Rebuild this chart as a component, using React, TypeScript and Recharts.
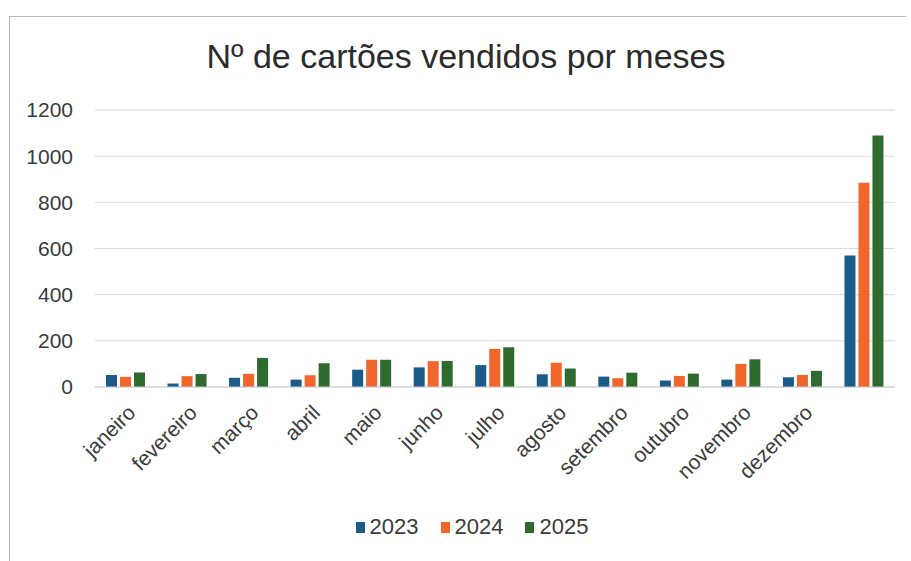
import { Bar, BarChart, CartesianGrid, XAxis, YAxis } from "recharts";

const months = [
  "janeiro", "fevereiro", "março", "abril", "maio", "junho", "julho",
  "agosto", "setembro", "outubro", "novembro", "dezembro", ""
];
const sales2023 = [52, 15, 40, 32, 75, 85, 95, 55, 45, 28, 32, 42, 570];
const sales2024 = [44, 47, 57, 51, 118, 112, 165, 105, 38, 48, 100, 52, 885];
const sales2025 = [63, 56, 126, 103, 118, 113, 172, 80, 62, 58, 120, 70, 1090];
const yTicks = [0, 200, 400, 600, 800, 1000, 1200];

const series = [
  { key: "2023", values: sales2023, color: "#1a5b87" },
  { key: "2024", values: sales2024, color: "#f0662b" },
  { key: "2025", values: sales2025, color: "#2f6b2f" }
];

const data = months.map((m, i) => {
  const row: Record<string, string | number> = { month: m };
  series.forEach((s) => (row[s.key] = s.values[i]));
  return row;
});

const FONT = "'Liberation Sans', Arial, sans-serif";
const TEXT = "#3b3b3b";

const MonthTick = ({ x, y, payload }: any) => (
  <text
    x={x + 11}
    y={y + 19}
    transform={`rotate(-45 ${x + 11} ${y + 19})`}
    textAnchor="end"
    fill={TEXT}
    fontSize={21}
    fontFamily={FONT}
  >
    {payload.value}
  </text>
);

export default function App() {
  return (
    <div style={{ position: "absolute", left: 0, top: 0, width: 911, height: 561, background: "#fff", fontFamily: FONT }}>
      <div
        style={{
          position: "absolute", left: 9, top: 16, width: 896, height: 545,
          borderTop: "1px solid #b8b8b8", borderLeft: "1px solid #b8b8b8"
        }}
      />
      <div
        style={{
          position: "absolute", left: 0, top: 36, width: 932, textAlign: "center",
          fontSize: 34, color: "#2b2b2b", lineHeight: "40px"
        }}
      >
        Nº de cartões vendidos por meses
      </div>
      <div style={{ position: "absolute", left: 0, top: 0 }}>
        <BarChart
          width={911}
          height={561}
          data={data}
          margin={{ top: 110, right: 16, left: 0, bottom: 144 }}
          barSize={11}
          barGap={3}
        >
          <CartesianGrid vertical={false} stroke="#d6dae3" />
          <XAxis
            dataKey="month"
            height={30}
            interval={0}
            tick={<MonthTick />}
            tickLine={false}
            axisLine={{ stroke: "#c9cdd6" }}
          />
          <YAxis
            width={95}
            domain={[0, 1200]}
            ticks={yTicks}
            tickLine={false}
            axisLine={false}
            tickSize={0}
            tickMargin={22}
            tick={{ fill: TEXT, fontSize: 21, fontFamily: FONT }}
          />
          {series.map((s) => (
            <Bar key={s.key} dataKey={s.key} fill={s.color} isAnimationActive={false} />
          ))}
        </BarChart>
      </div>
      <div
        style={{
          position: "absolute", left: 0, top: 514, width: 944, display: "flex",
          justifyContent: "center", gap: 22, fontSize: 22, color: TEXT, lineHeight: "26px"
        }}
      >
        {series.map((s) => (
          <div key={s.key} style={{ display: "flex", alignItems: "center", gap: 5 }}>
            <span style={{ width: 9, height: 11, background: s.color, display: "inline-block" }} />
            <span>{s.key}</span>
          </div>
        ))}
      </div>
    </div>
  );
}
